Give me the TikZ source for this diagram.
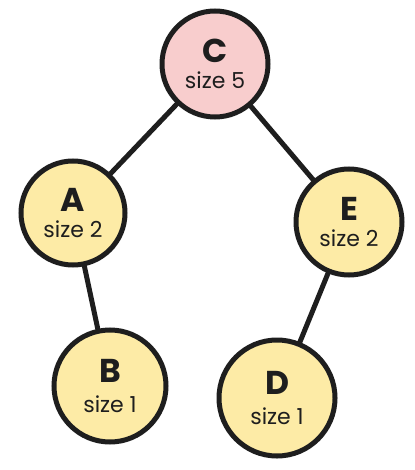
\documentclass[tikz,border=0pt]{standalone}
\usepackage{fontspec}
\setmainfont{Poppins}
\definecolor{ink}{HTML}{1E1E1E}
\definecolor{pinkfill}{HTML}{F8CDCD}
\definecolor{yellowfill}{HTML}{FDEBA6}
\tikzset{
  tnode/.style={circle, draw=ink, line width=5pt, inner sep=0pt, align=center, text=ink},
  edge/.style={draw=ink, line width=5pt, line cap=round, shorten <=-1pt, shorten >=-1pt},
}
\newcommand{\letterbig}[1]{{\fontsize{33}{33}\selectfont\bfseries #1}}
\newcommand{\sizetxt}[1]{{\fontsize{22}{22}\selectfont #1}}
\begin{document}
\begin{tikzpicture}[x=1pt,y=-1pt]
\useasboundingbox (0,0) rectangle (414,470);
\node[tnode, fill=pinkfill, minimum size=106pt] (C) at (215,64) {\letterbig{C}\\[8pt]\sizetxt{size 5}};
\node[tnode, fill=yellowfill, minimum size=104pt] (A) at (73,213) {\letterbig{A}\\[8pt]\sizetxt{size 2}};
\node[tnode, fill=yellowfill, minimum size=106pt] (E) at (349,222) {\letterbig{E}\\[8pt]\sizetxt{size 2}};
\node[tnode, fill=yellowfill, minimum size=112pt] (B) at (110,386) {\letterbig{B}\\[12pt]\sizetxt{size 1}};
\node[tnode, fill=yellowfill, minimum size=116pt] (D) at (277,398) {\letterbig{D}\\[12pt]\sizetxt{size 1}};
\draw[edge] (C) -- (A);
\draw[edge] (C) -- (E);
\draw[edge] (A) -- (B);
\draw[edge] (E) -- (D);
\end{tikzpicture}
\end{document}
